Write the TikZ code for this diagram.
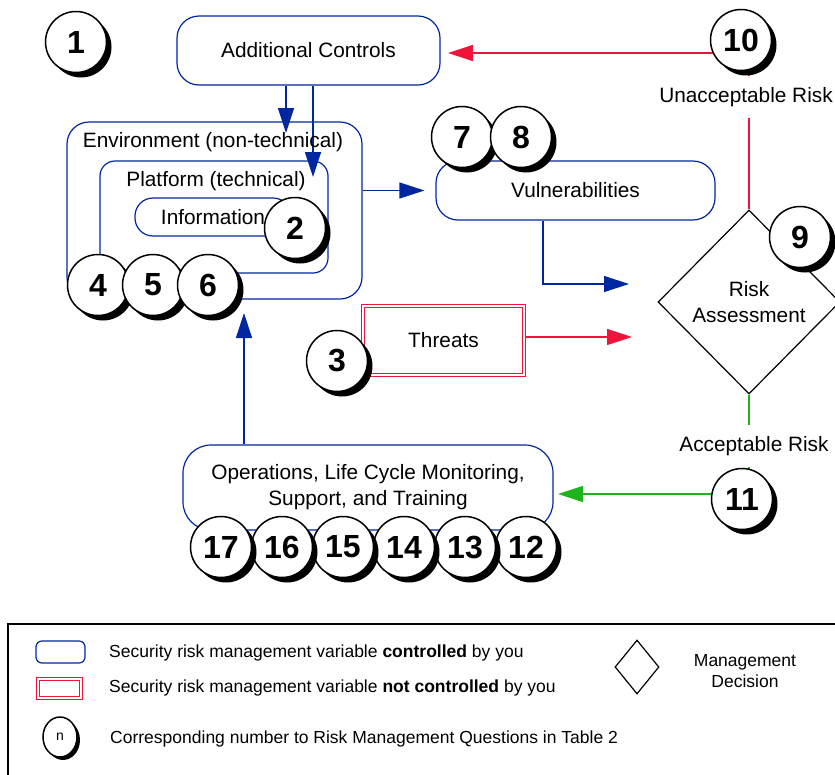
\documentclass[tikz,border=0pt]{standalone}
\usepackage{fontspec}
\setmainfont{Liberation Sans}
\usetikzlibrary{arrows.meta,shapes.geometric,shadows}
\definecolor{ctlblue}{RGB}{0,38,160}
\definecolor{thrred}{RGB}{240,20,60}
\definecolor{okgreen}{RGB}{30,180,30}
\pgfdeclarelayer{bg}
\pgfsetlayers{bg,main}

\begin{document}
\begin{tikzpicture}[x=1pt,y=-1pt,
    every node/.style={font=\fontsize{20.8}{26}\selectfont, inner sep=0pt},
    ctlbox/.style={draw=ctlblue, line width=1.2pt, rounded corners=#1},
    ctlbox/.default=22pt,
    thrbox/.style={draw=thrred, double=white, double distance=2.5pt, line width=1pt},
    decide/.style={diamond, draw=black, line width=1.2pt},
    num/.style={circle, draw=black, line width=1.5pt, fill=white, minimum size=61pt,
        font=\fontsize{32}{32}\selectfont\bfseries,
        drop shadow={shadow xshift=5pt, shadow yshift=-5pt, opacity=1, fill=black}},
    keytext/.style={font=\fontsize{17.5}{21}\selectfont},
    bluearrow/.style={draw=ctlblue, line width=1.2pt, -{Triangle[length=25pt,width=16pt]}},
    redarrow/.style={draw=thrred, line width=1.2pt, -{Triangle[length=25pt,width=16pt]}},
    greenarrow/.style={draw=okgreen, line width=1.2pt, -{Triangle[length=25pt,width=16pt]}}]

    % Page area
    \useasboundingbox (0,0) rectangle (835,774);
    \clip (0,0) rectangle (835,774);

    % Variables controlled by you
    \node[ctlbox, minimum width=263pt, minimum height=69pt] (ctrl) at (308.5,50.5) {Additional Controls};
    \node[ctlbox, minimum width=295pt, minimum height=177pt] (env) at (214.5,210.5) {};
    \node[ctlbox=15pt, minimum width=228pt, minimum height=112pt] (plat) at (214,217) {};
    \node[ctlbox=18pt, minimum width=156pt, minimum height=38pt] (info) at (213,217) {Information};
    \node (envlbl) at (213,142) {Environment (non-technical)};
    \node (platlbl) at (216,181) {Platform (technical)};
    \node[ctlbox, minimum width=279pt, minimum height=59pt] (vuln) at (575.5,190.5) {Vulnerabilities};
    \node[ctlbox=28pt, minimum width=370pt, minimum height=85pt, align=center] (ops) at (368,487.5)
        {Operations, Life Cycle Monitoring,\\Support, and Training};

    % Variable not controlled by you
    \node[thrbox, minimum width=161pt, minimum height=69pt] (thr) at (443.5,340.5) {Threats};

    % Management decision
    \node[decide, minimum width=182pt, minimum height=184pt, align=center] (risk) at (749,302) {Risk\\Assessment};

    % Numbered questions
    \node[num] (c1) at (76,42) {1};
    \node[num] (c2) at (295,228) {2};
    \node[num] (c3) at (337,361) {3};
    \node[num] (c4) at (98,285) {4};
    \node[num] (c5) at (153,285) {5};
    \node[num] (c6) at (208,285) {6};
    \node[num] (c7) at (462,137) {7};
    \node[num] (c8) at (521,137) {8};
    \node[num] (c9) at (800,237) {9};
    \node[num] (c10) at (741,40) {10};
    \node[num] (c11) at (742,499) {11};
    \node[num] (c12) at (526,547) {12};
    \node[num] (c13) at (465,547) {13};
    \node[num] (c14) at (404,547) {14};
    \node[num] (c15) at (343,547) {15};
    \node[num] (c16) at (282,547) {16};
    \node[num] (c17) at (221,547) {17};

    % Outcome labels
    \node[fill=white, inner xsep=2pt, inner ysep=11pt] (unacc) at (746,97) {Unacceptable Risk};
    \node[fill=white, inner xsep=2pt, inner ysep=11pt] (acc) at (754,446) {Acceptable Risk};

    % Arrow ends
    \coordinate (envin) at (286,133);
    \coordinate (platin) at (313,177);
    \coordinate (envbot) at (244,299);
    \coordinate (vulnin) at (629,284);
    \coordinate (thrin) at (632,337);
    \coordinate (ctrlin) at (448,53);
    \coordinate (opsin) at (558,494);

    % Connectors, behind the circles
    \begin{pgfonlayer}{bg}
        \draw[bluearrow] (ctrl.south -| envin) -- (envin);
        \draw[bluearrow] (ctrl.south -| platin) -- (platin);
        \draw[bluearrow, shorten >=11pt] (env.east |- vuln.west) -- (vuln.west);
        \draw[bluearrow, shorten >=14pt] (ops.north -| envbot) -- (envbot);
        \draw[bluearrow] ([xshift=-32.5pt]vuln.south) |- (vulnin);
        \draw[redarrow] (thr.east |- thrin) -- (thrin);
        \draw[redarrow] (c10.center |- ctrlin) -- (ctrlin);
        \draw[greenarrow] (c11.center |- opsin) -- (opsin);
        \draw[draw=thrred, line width=1.2pt] (risk.north) -- (risk.north |- c10.center);
        \draw[draw=okgreen, line width=1.2pt] (risk.south) -- (risk.south |- c11.center);
    \end{pgfonlayer}

    % Legend
    \draw[line width=1.5pt] (8,624) rectangle (850,790);
    \node[ctlbox=6pt, minimum width=49pt, minimum height=22pt] (keyctl) at (60.5,652) {};
    \node[keytext, anchor=base west] (keyctltxt) at (109,657) {Security risk management variable \textbf{controlled} by you};
    \node[thrbox, minimum width=43pt, minimum height=19pt] (keythr) at (59.5,688.5) {};
    \node[keytext, anchor=base west] (keythrtxt) at (109,692) {Security risk management variable \textbf{not controlled} by you};
    \node[ellipse, draw=black, line width=1.5pt, fill=white, minimum width=34pt, minimum height=40pt,
        font=\fontsize{14}{14}\selectfont,
        drop shadow={shadow xshift=3pt, shadow yshift=-3pt, opacity=1, fill=black}] (keyn) at (60,737) {n};
    \node[keytext, anchor=base west] (keyntxt) at (110,743) {Corresponding number to Risk Management Questions in Table 2};
    \node[decide, minimum width=44pt, minimum height=54pt] (keydec) at (637,667) {};
    \node[keytext, align=center] (keydectxt) at (745,671) {Management\\Decision};
\end{tikzpicture}
\end{document}
